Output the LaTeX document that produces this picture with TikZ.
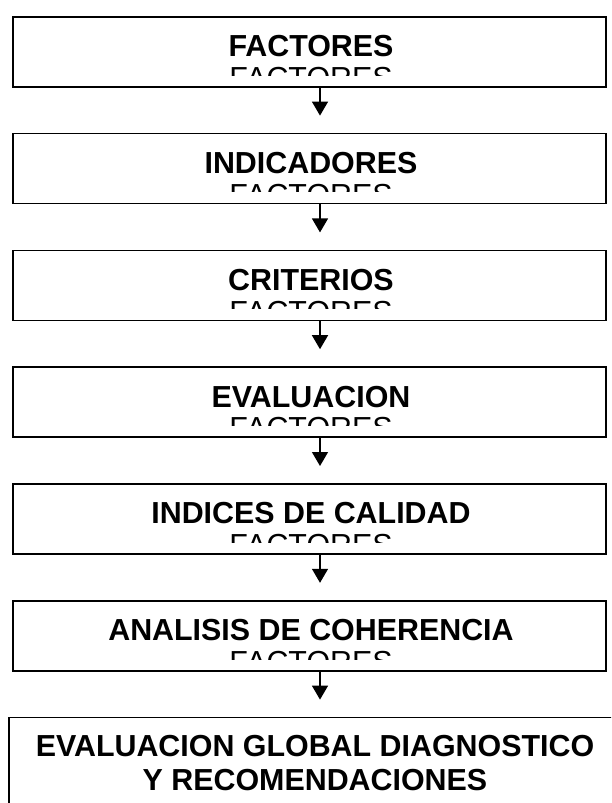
\documentclass[tikz,border=0pt]{standalone}
\usepackage{fontspec}
\setmainfont{Liberation Sans}
\usetikzlibrary{arrows.meta}
\begin{document}
\begin{tikzpicture}[x=1pt,y=-1pt,
  box/.style={draw=black, line width=1.6pt, rectangle, inner sep=0pt, minimum width=593pt, minimum height=70pt},
  title/.style={anchor=base, inner sep=0pt, font=\fontsize{30.4}{35}\selectfont\bfseries},
  ghost/.style={anchor=base, inner sep=0pt, font=\fontsize{30.4}{35}\selectfont},
  arr/.style={line width=1.4pt, -{Triangle[width=16pt,length=14pt]}}]
\useasboundingbox (0,0) rectangle (611,803);
\clip (0,0) rectangle (611,803);
\foreach \i/\t in {1/FACTORES,2/INDICADORES,3/CRITERIOS,4/EVALUACION,5/INDICES DE CALIDAD,6/ANALISIS DE COHERENCIA} {
  \pgfmathsetmacro\ty{16+116.8*(\i-1)}
  \node[box, anchor=north] (b\i) at (309.5,\ty) {};
  \node[title] (t\i) at (311,\ty+40.7) {\t};
  \begin{scope}
    \clip (13,\ty) rectangle (606,\ty+59);
    \node[ghost] (g\i) at (311,\ty+72.5) {FACTORES};
  \end{scope}
}
\node[box, anchor=north west, minimum width=620pt, minimum height=120pt] (b7) at (8,716.7) {};
\node[title] (t7a) at (315,756.5) {EVALUACION GLOBAL DIAGNOSTICO};
\node[title] (t7b) at (315,790) {Y RECOMENDACIONES};
\foreach \i in {1,...,6} {
  \path (b\i.south -| 320,0) ++(0,28) coordinate (tip\i);
  \draw[arr] (b\i.south -| 320,0) -- (tip\i);
}
\end{tikzpicture}
\end{document}
